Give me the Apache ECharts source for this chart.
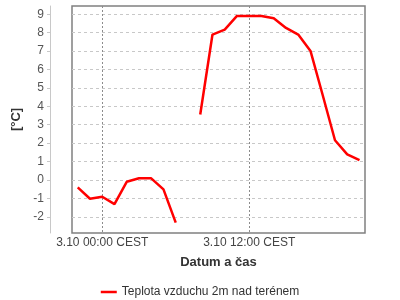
<!DOCTYPE html>
<html>
<head>
<meta charset="utf-8">
<script src="https://cdn.jsdelivr.net/npm/echarts@6/dist/echarts.min.js"></script>
<style>html,body{margin:0;padding:0;background:#fff}#c{width:400px;height:300px}</style>
</head>
<body>
<div id="c"></div>
<script>
var times = ['2023-10-02 22:00','2023-10-02 23:00','2023-10-03 00:00','2023-10-03 01:00','2023-10-03 02:00','2023-10-03 03:00','2023-10-03 04:00','2023-10-03 05:00','2023-10-03 06:00','2023-10-03 07:00','2023-10-03 08:00','2023-10-03 09:00','2023-10-03 10:00','2023-10-03 11:00','2023-10-03 12:00','2023-10-03 13:00','2023-10-03 14:00','2023-10-03 15:00','2023-10-03 16:00','2023-10-03 17:00','2023-10-03 18:00','2023-10-03 19:00','2023-10-03 20:00','2023-10-03 21:00'];
var temps = [-0.40,-1.02,-0.91,-1.31,-0.10,0.09,0.09,-0.51,-2.32,null,3.56,7.90,8.17,8.91,8.91,8.91,8.78,8.26,7.90,7.01,4.60,2.16,1.39,1.08];
var xTicks = ['2023-10-03 00:00','2023-10-03 12:00'];
var yTicks = [-2,-1,0,1,2,3,4,5,6,7,8,9];
var xRange = ['2023-10-02 21:32','2023-10-03 21:27'];
var yRange = [-2.88, 9.45];
var seriesName = 'Teplota vzduchu 2m nad terénem';

var ORIGIN = '2023-10-03 00:00';
function ts(s){ var p = s.split(/[- :]/); return Date.UTC(+p[0], +p[1]-1, +p[2], +p[3], +p[4]); }
function hrs(s){ return (ts(s) - ts(ORIGIN)) / 3600000; }
function pad(n){ return (n<10?'0':'')+n; }
function fmt(h){ var d = new Date(ts(ORIGIN) + h*3600000); return d.getUTCDate()+'.'+(d.getUTCMonth()+1)+' '+pad(d.getUTCHours())+':'+pad(d.getUTCMinutes())+' CEST'; }
var FONT = '"Liberation Sans", Arial, sans-serif';
var chart = echarts.init(document.getElementById('c'), null, {renderer:'canvas'});
chart.setOption({
  animation:false,
  textStyle:{fontFamily:FONT},
  grid:{left:72,right:35,top:6,bottom:67,show:true,borderColor:'#808080',borderWidth:1.5,backgroundColor:'#fff'},
  legend:{
    data:[{name:seriesName, icon:'rect'}],
    left:'center', top:281, itemWidth:16, itemHeight:2.5, itemGap:10,
    textStyle:{fontFamily:FONT,fontSize:12,color:'#333'}
  },
  xAxis:{
    type:'value', min:hrs(xRange[0]), max:hrs(xRange[1]),
    name:'Datum a čas', nameLocation:'middle', nameGap:23,
    nameTextStyle:{fontFamily:FONT,fontSize:13,fontWeight:'bold',color:'#333'},
    axisLine:{show:false, onZero:false}, axisTick:{show:false, customValues:xTicks.map(hrs)},
    axisLabel:{customValues:xTicks.map(hrs), margin:4, fontSize:12, color:'#444', fontFamily:FONT, formatter:fmt},
    splitLine:{show:true, lineStyle:{color:'#8c8c8c',type:[2,2],width:1}}
  },
  yAxis:{
    type:'value', min:yRange[0], max:yRange[1], offset:22,
    name:'[°C]', nameLocation:'middle', nameGap:21, nameRotate:90,
    nameTextStyle:{fontFamily:FONT,fontSize:13,fontWeight:'bold',color:'#333'},
    axisLine:{show:true, onZero:false, lineStyle:{color:'#c8c8c8',width:1}},
    axisTick:{show:true, length:3, customValues:yTicks, lineStyle:{color:'#c8c8c8'}},
    axisLabel:{customValues:yTicks, margin:6, fontSize:12, color:'#555', fontFamily:FONT},
    splitLine:{show:true, lineStyle:{color:'#c8c8c8',type:[3,3],width:1}}
  },
  series:[{
    name:seriesName, type:'line', showSymbol:false, connectNulls:false,
    data:times.map(function(t,i){return [hrs(t), temps[i]];}),
    lineStyle:{color:'#ff0000',width:2.5}, itemStyle:{color:'#ff0000'}
  }]
});
</script>
</body>
</html>
